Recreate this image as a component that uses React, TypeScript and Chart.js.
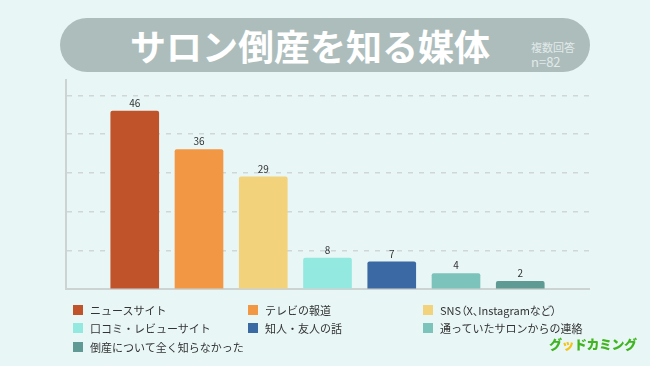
import React, { useEffect, useRef } from "react";
import { Chart, registerables } from "chart.js";

Chart.register(...registerables);

const categories = [
  "ニュースサイト",
  "テレビの報道",
  "SNS（X、Instagramなど）",
  "口コミ・レビューサイト",
  "知人・友人の話",
  "通っていたサロンからの連絡",
  "倒産について全く知らなかった",
];
const counts = [46, 36, 29, 8, 7, 4, 2];
const barColors = ["#c1532b", "#f29744", "#f2d37b", "#93e9e0", "#3b69a3", "#7bc3bb", "#5f9b94"];
const yTicksStep = 10;
const titleText = "サロン倒産を知る媒体";
const noteLines = ["複数回答", "n=82"];

const FONT = '"Noto Sans CJK JP", "Noto Sans", sans-serif';

const valueLabels = {
  id: "valueLabels",
  afterDatasetsDraw(chart: any) {
    const ctx = chart.ctx;
    const meta = chart.getDatasetMeta(0);
    ctx.save();
    ctx.font = `10px ${FONT}`;
    ctx.fillStyle = "#333333";
    ctx.textAlign = "center";
    ctx.textBaseline = "bottom";
    meta.data.forEach((el: any, i: number) => {
      ctx.fillText(String(counts[i]), el.x, el.y - 3);
    });
    ctx.restore();
  },
};

export default function App() {
  const ref = useRef<HTMLCanvasElement>(null);
  useEffect(() => {
    if (!ref.current) return;
    const chart = new Chart(ref.current, {
      type: "bar",
      data: {
        datasets: [
          {
            data: counts.map((v, i) => ({ x: i, y: v })),
            backgroundColor: barColors,
            borderRadius: { topLeft: 2, topRight: 2, bottomLeft: 0, bottomRight: 0 },
            borderSkipped: "bottom",
            barThickness: 48,
          },
        ],
      },
      options: {
        responsive: false,
        animation: false,
        layout: { padding: { left: 66, right: 61, top: 80, bottom: 77 } },
        plugins: { legend: { display: false }, tooltip: { enabled: false } },
        scales: {
          x: {
            type: "linear",
            min: -1.07,
            max: 7.07,
            offset: false,
            bounds: "data",
            ticks: { display: false },
            grid: { display: false, drawTicks: false, offset: false },
            border: { display: true, color: "#cdd3d3", width: 2 },
          },
          y: {
            min: 0,
            max: 54,
            ticks: { display: false, stepSize: yTicksStep, includeBounds: false },
            grid: { color: "#d0d6d6", lineWidth: 1.5, drawTicks: false },
            border: { display: true, color: "#cdd3d3", width: 2, dash: [5, 6] },
          },
        },
      },
      plugins: [valueLabels],
    } as any);
    return () => chart.destroy();
  }, []);

  const legendCols = [73, 248, 423];
  const legendRows = [310, 328, 347];

  return (
    <div
      style={{
        position: "absolute",
        left: 0,
        top: 0,
        width: 650,
        height: 366,
        background: "#e9f6f6",
        overflow: "hidden",
        fontFamily: FONT,
      }}
    >
      <div
        style={{
          position: "absolute",
          left: 60,
          top: 18,
          width: 530,
          height: 54,
          borderRadius: 27,
          background: "#adbdbc",
        }}
      />
      <div
        style={{
          position: "absolute",
          left: 130,
          top: 45,
          transform: "translateY(-50%)",
          color: "#ffffff",
          fontSize: 36,
          fontWeight: 700,
          whiteSpace: "nowrap",
          lineHeight: "40px",
        }}
      >
        {titleText}
      </div>
      <div
        style={{
          position: "absolute",
          left: 531,
          top: 40,
          color: "#e1e9e9",
          fontSize: 11,
          lineHeight: "14px",
          whiteSpace: "nowrap",
        }}
      >
        {noteLines[0]}
      </div>
      <div
        style={{
          position: "absolute",
          left: 531,
          top: 54,
          color: "#e1e9e9",
          fontSize: 13,
          lineHeight: "16px",
          whiteSpace: "nowrap",
        }}
      >
        {noteLines[1]}
      </div>
      <canvas ref={ref} width={650} height={366} style={{ position: "absolute", left: 0, top: 0 }} />
      {categories.map((c, i) => {
        const col = i % 3;
        const row = Math.floor(i / 3);
        return (
          <div
            key={c}
            style={{
              position: "absolute",
              left: legendCols[col],
              top: legendRows[row] - 7,
              height: 14,
              display: "flex",
              alignItems: "center",
              whiteSpace: "nowrap",
            }}
          >
            <span
              style={{
                display: "inline-block",
                width: 10,
                height: 10,
                background: barColors[i],
                marginRight: 7,
              }}
            />
            <span
              style={{
                fontSize: 11,
                color: "#333333",
                lineHeight: "14px",
                fontFeatureSettings: c.includes("（") ? '"palt"' : "normal",
              }}
            >
              {c}
            </span>
          </div>
        );
      })}
      <div
        style={{
          position: "absolute",
          left: 549,
          top: 336,
          fontSize: 13,
          fontWeight: 900,
          lineHeight: "16px",
          color: "#3fb520",
          whiteSpace: "nowrap",
          letterSpacing: -0.5,
        }}
      >
        グ<span style={{ color: "#f0c419" }}>ッ</span>ドカミング
      </div>
    </div>
  );
}
